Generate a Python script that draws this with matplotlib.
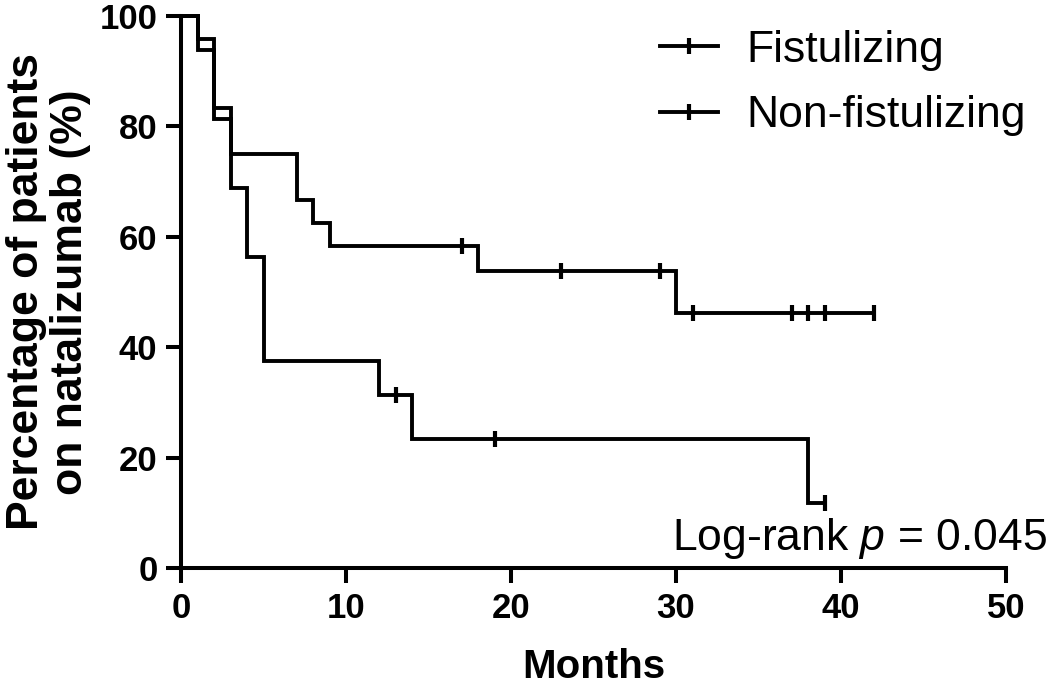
import numpy as np
import matplotlib
matplotlib.use("Agg")
import matplotlib.pyplot as plt
from matplotlib.lines import Line2D

plt.rcParams["font.family"] = ["Liberation Sans", "DejaVu Sans"]
plt.rcParams["mathtext.fontset"] = "custom"
plt.rcParams["mathtext.rm"] = "Liberation Sans"
plt.rcParams["mathtext.it"] = "Liberation Sans:italic"

# Kaplan-Meier steps (months, % still on drug)
fist_time = [0, 1, 2, 3, 7, 8, 9, 18, 30, 42]
fist_surv = [100, 95.8, 83.3, 75.0, 66.7, 62.5, 58.3, 53.8, 46.2, 46.2]
fist_censor = [17, 23, 29, 31, 37, 38, 39, 42]

nonfist_time = [0, 1, 2, 3, 4, 5, 12, 14, 38, 39]
nonfist_surv = [100, 93.8, 81.3, 68.8, 56.3, 37.5, 31.3, 23.4, 11.7, 11.7]
nonfist_censor = [13, 19, 39]

labels = ["Fistulizing", "Non-fistulizing"]
x_ticks = [0, 10, 20, 30, 40, 50]
y_ticks = [0, 20, 40, 60, 80, 100]
p_text = r"Log-rank $p$ = 0.045"

LW = 2.8


def km_at(times, surv, t):
    idx = np.searchsorted(times, t, side="right") - 1
    return np.asarray(surv)[idx]


fig = plt.figure(figsize=(10.5, 6.85), dpi=100)
ax = fig.add_axes([181 / 1050, 1 - 568 / 685, (1006 - 181) / 1050, (568 - 16) / 685])

for t, s, c in [(fist_time, fist_surv, fist_censor),
                (nonfist_time, nonfist_surv, nonfist_censor)]:
    ax.step(t, s, where="post", color="black", lw=LW, solid_capstyle="butt",
            solid_joinstyle="miter", clip_on=False, zorder=3)
    ax.plot(c, km_at(t, s, c), ls="none", marker="|", ms=12, mew=3,
            color="black", clip_on=False, zorder=4)

ax.set_xlim(0, 50)
ax.set_ylim(0, 100)
ax.set_xticks(x_ticks)
ax.set_yticks(y_ticks)
for sp in ["top", "right"]:
    ax.spines[sp].set_visible(False)
for sp in ["left", "bottom"]:
    ax.spines[sp].set_linewidth(2.9)
ax.tick_params(direction="out", length=11, width=2.9, labelsize=25, pad=6)
for lab in ax.get_xticklabels() + ax.get_yticklabels():
    lab.set_fontweight("bold")

ax.set_xlabel("Months", fontsize=29, fontweight="bold", labelpad=17)
ax.set_ylabel("Percentage of patients\non natalizumab (%)", fontsize=32,
              fontweight="bold", labelpad=6, linespacing=1.1)

handles = [Line2D([], [], color="black", lw=LW, marker="|", ms=11, mew=3)
           for _ in labels]
ax.legend(handles, labels, loc="upper left", frameon=False, fontsize=32,
          bbox_to_anchor=(660 / 1050, 1 - 30 / 685), bbox_transform=fig.transFigure,
          borderpad=0, borderaxespad=0, handlelength=1.3, handletextpad=0.65,
          labelspacing=0.55)

ax.text(52.5, 3.3, p_text, fontsize=32, ha="right", va="baseline", clip_on=False)

fig.savefig("out.png", dpi=100)
